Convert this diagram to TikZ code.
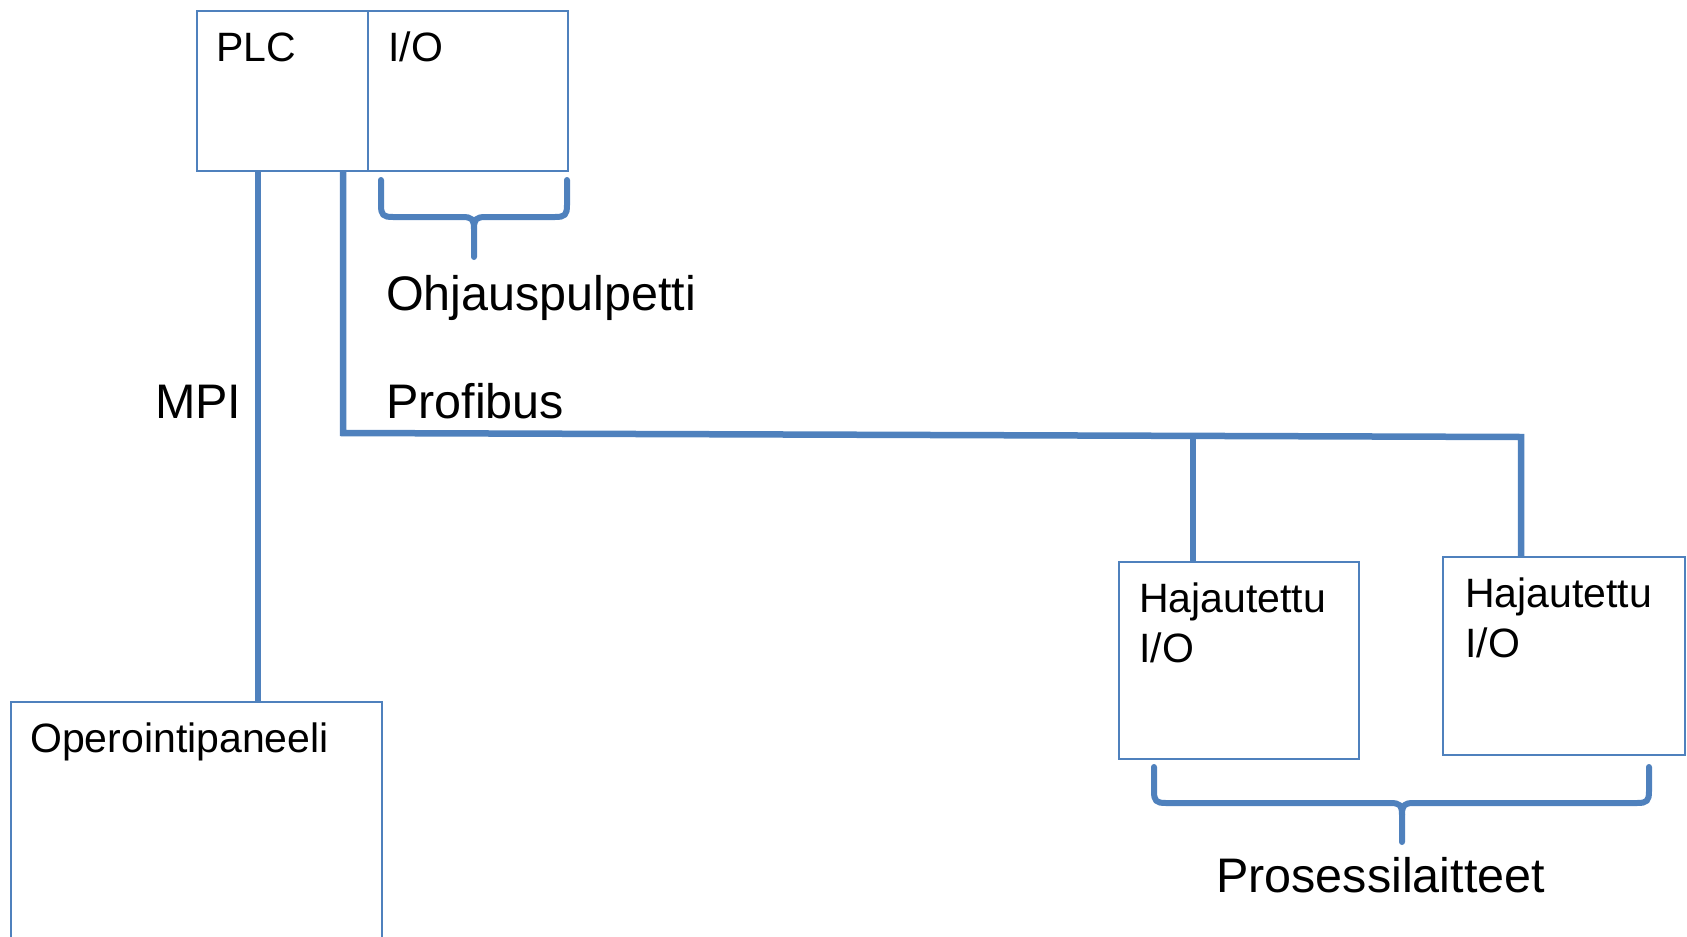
\documentclass[tikz,border=0pt]{standalone}
\usepackage{fontspec}
\setmainfont{Liberation Sans}
\definecolor{ob}{HTML}{4F81BD}
\begin{document}
\begin{tikzpicture}[x=1pt,y=-1pt,
 box/.style={draw=ob,line width=2pt,inner sep=0,anchor=north west},
 bus/.style={draw=ob,line width=6.5pt},
 brace/.style={draw=ob,line width=6pt,line cap=round,line join=round},
 boxtext/.style={inner sep=0,anchor=base west,font=\fontsize{41}{50}\selectfont,align=left},
 lbl/.style={inner sep=0,anchor=base west,font=\fontsize{48.5}{56}\selectfont}]
\useasboundingbox (0,0) rectangle (1687,937);
% boxes
\node[box,minimum width=171pt,minimum height=160pt] (plc) at (196,10) {};
\node[box,minimum width=200pt,minimum height=160pt] (io) at (367,10) {};
\node[box,minimum width=371pt,minimum height=260pt] (op) at (10,701) {};
\node[box,minimum width=240pt,minimum height=197pt] (h1) at (1118,561) {};
\node[box,minimum width=242pt,minimum height=198pt] (h2) at (1442,556) {};
% connectors
\coordinate (mp) at ([xshift=62pt]plc.south west);
\draw[bus] (mp) -- (mp |- op.north);
\coordinate (pt) at ([xshift=147pt]plc.south west);
\coordinate (pb) at (343,433);
\coordinate (bj) at (1193,435);
\coordinate (br) at (1521,437);
\draw[bus] (pt) -- (pb) -- (br) -- (br |- h2.north);
\draw[bus] (bj) -- (bj |- h1.north);
% braces
\draw[brace] (381,180) -- (381,205) .. controls (381,215) and (383,217) .. (393,217) -- (462,217) .. controls (472,217) and (474,219) .. (474,229) -- (474,257);
\draw[brace] (567,180) -- (567,205) .. controls (567,215) and (565,217) .. (555,217) -- (486,217) .. controls (476,217) and (474,219) .. (474,229);
\draw[brace] (1154,767) -- (1154,791) .. controls (1154,801) and (1156,803) .. (1166,803) -- (1390,803) .. controls (1400,803) and (1402,805) .. (1402,815) -- (1402,842);
\draw[brace] (1649,767) -- (1649,791) .. controls (1649,801) and (1647,803) .. (1637,803) -- (1414,803) .. controls (1404,803) and (1402,805) .. (1402,815);
% texts
\node[boxtext] (tplc) at (216,61) {PLC};
\node[boxtext] (tio) at (388,61) {I/O};
\node[boxtext] (top) at (30,752) {Operointipaneeli};
\node[boxtext] (th1) at (1139,662) {Hajautettu\\I/O};
\node[boxtext] (th2) at (1465,657) {Hajautettu\\I/O};
\node[lbl] (ohj) at (386,310) {Ohjauspulpetti};
\node[lbl] (mpi) at (155,418) {MPI};
\node[lbl] (prof) at (386,418) {Profibus};
\node[lbl] (pros) at (1216,892) {Prosessilaitteet};
\end{tikzpicture}
\end{document}
